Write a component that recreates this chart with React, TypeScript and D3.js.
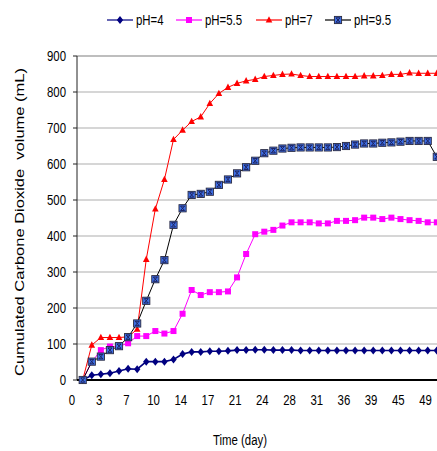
import React from 'react';
import * as d3 from 'd3';

// Values (mL), one point per sampling day
const ph4 = [0, 13, 16, 19, 25, 31, 30, 51, 51, 51, 57, 72, 78, 78, 80, 80, 81, 83, 83, 84,
  84, 83, 83, 83, 82, 82, 82, 82, 82, 82, 82, 82, 82, 82, 82, 82, 82, 82, 82, 82];
const ph55 = [0, 50, 83, 93, 94, 102, 122, 122, 136, 129, 136, 184, 250, 236, 244, 244, 246, 285, 350, 405,
  412, 417, 429, 438, 438, 438, 435, 435, 442, 442, 444, 451, 451, 447, 451, 447, 444, 442, 438, 438];
const ph7 = [0, 97, 118, 118, 118, 120, 141, 335, 475, 557, 668, 694, 718, 731, 768, 796, 813, 824, 831, 835,
  843, 846, 849, 850, 846, 843, 843, 843, 843, 843, 843, 845, 845, 846, 849, 849, 853, 852, 852, 852];
const ph95 = [0, 51, 65, 83, 94, 119, 157, 220, 280, 333, 431, 477, 514, 517, 523, 542, 557, 574, 591, 609,
  630, 637, 643, 645, 646, 646, 646, 646, 647, 650, 654, 657, 657, 659, 660, 662, 664, 664, 664, 620];

const dayLabels = ['0', '3', '7', '10', '14', '17', '21', '24', '28', '31', '36', '39', '45', '49'];
const yTicks = [0, 100, 200, 300, 400, 500, 600, 700, 800, 900];
const seriesNames = ['pH=4', 'pH=5.5', 'pH=7', 'pH=9.5'];

const WIDTH = 437;
const HEIGHT = 451;
const SX = 0.815; // glyphs in the reference are squeezed horizontally
const FONT = 'Liberation Sans, Arial, sans-serif';

const series = [
  { name: seriesNames[0], values: ph4, line: '#000080', width: 1.6, marker: 'diamond', fill: '#000080' },
  { name: seriesNames[1], values: ph55, line: '#ff00ff', width: 1, marker: 'square', fill: '#ff00ff' },
  { name: seriesNames[2], values: ph7, line: '#ff0000', width: 1, marker: 'triangle', fill: '#ff0000' },
  { name: seriesNames[3], values: ph95, line: '#000000', width: 1, marker: 'xsquare', fill: '#3d6fe6' },
];

function Marker({ kind, fill, x, y }: { kind: string; fill: string; x: number; y: number }) {
  if (kind === 'diamond') {
    return <path transform={`translate(${x},${y})`} d="M0,-4L3.2,0L0,4L-3.2,0Z" fill={fill} />;
  }
  if (kind === 'square') {
    return <rect x={x - 3} y={y - 3} width={6} height={6} fill={fill} />;
  }
  if (kind === 'triangle') {
    return <path transform={`translate(${x},${y})`} d="M0,-3.8L3.3,2.6L-3.3,2.6Z" fill={fill} />;
  }
  return (
    <g transform={`translate(${x},${y})`}>
      <rect x={-3.6} y={-3.6} width={7.2} height={7.2} fill={fill} stroke="#2a2a40" strokeWidth={0.9} />
      <path d="M-2,-2.2L2,-2.2L-2,2.2L2,2.2Z" fill="none" stroke="#1c1c50" strokeWidth={0.9} />
    </g>
  );
}

export default function App() {
  const left = 77;
  const top = 56;
  const bottom = 380;

  const x = d3.scaleLinear().domain([0, 39]).range([82.7, 436.8]);
  const y = d3.scaleLinear().domain([0, 900]).range([bottom, top]);
  const xLab = d3.scalePoint<string>().domain(dayLabels).range([72, 425.5]);

  const line = d3.line<number>()
    .x((_, i) => x(i))
    .y((d) => y(d));

  const legendX = [107, 176, 256, 325];

  return (
    <svg width={WIDTH} height={HEIGHT} style={{ position: 'absolute', left: 0, top: 0, background: '#fff' }}>
      {/* grid */}
      {yTicks.filter((t) => t > 0).map((t) => (
        <line key={t} x1={left} x2={WIDTH + 10} y1={y(t)} y2={y(t)}
          stroke={t === 900 ? '#a8a8a8' : '#c8c8c8'} strokeWidth={1.4} />
      ))}

      {/* y axis */}
      <line x1={left} x2={left} y1={top} y2={bottom} stroke="#222" strokeWidth={1} />
      {yTicks.map((t) => (
        <g key={t}>
          <line x1={left - 4} x2={left} y1={y(t)} y2={y(t)} stroke="#222" strokeWidth={1} />
          <text transform={`translate(66,${y(t) + 5})scale(${SX},1)`} textAnchor="end"
            fontFamily={FONT} fontSize={14} fill="#000">{t}</text>
        </g>
      ))}

      {/* x axis */}
      <line x1={left} x2={WIDTH} y1={bottom} y2={bottom} stroke="#000" strokeWidth={2} />
      {dayLabels.map((d) => (
        <text key={d} transform={`translate(${xLab(d)},${bottom + 25})scale(${SX},1)`} textAnchor="middle"
          fontFamily={FONT} fontSize={14} fill="#000">{d}</text>
      ))}

      {/* series */}
      {series.map((s) => (
        <g key={s.name}>
          <path d={line(s.values) || ''} fill="none" stroke={s.line} strokeWidth={s.width} />
          {s.values.map((v, i) => (
            <Marker key={i} kind={s.marker} fill={s.fill} x={x(i)} y={y(v)} />
          ))}
        </g>
      ))}

      {/* legend */}
      {series.map((s, i) => (
        <g key={s.name} transform={`translate(${legendX[i]},20)`}>
          <line x1={0} x2={26} y1={0} y2={0} stroke={s.line} strokeWidth={1.2} />
          <Marker kind={s.marker} fill={s.fill} x={13} y={0} />
          <text transform={`translate(29,5)scale(${SX},1)`} fontFamily={FONT} fontSize={14} fill="#000">{s.name}</text>
        </g>
      ))}

      {/* axis titles */}
      <text transform={`translate(24,222)scale(${SX},1)rotate(-90)`} textAnchor="middle"
        fontFamily={FONT} fontSize={16.5} fill="#000" style={{ whiteSpace: 'pre' }}>
        Cumulated Carbone Dioxide  volume (mL)
      </text>
      <text transform={`translate(240,445)scale(${SX},1)`} textAnchor="middle"
        fontFamily={FONT} fontSize={14} fill="#000">Time (day)</text>
    </svg>
  );
}
